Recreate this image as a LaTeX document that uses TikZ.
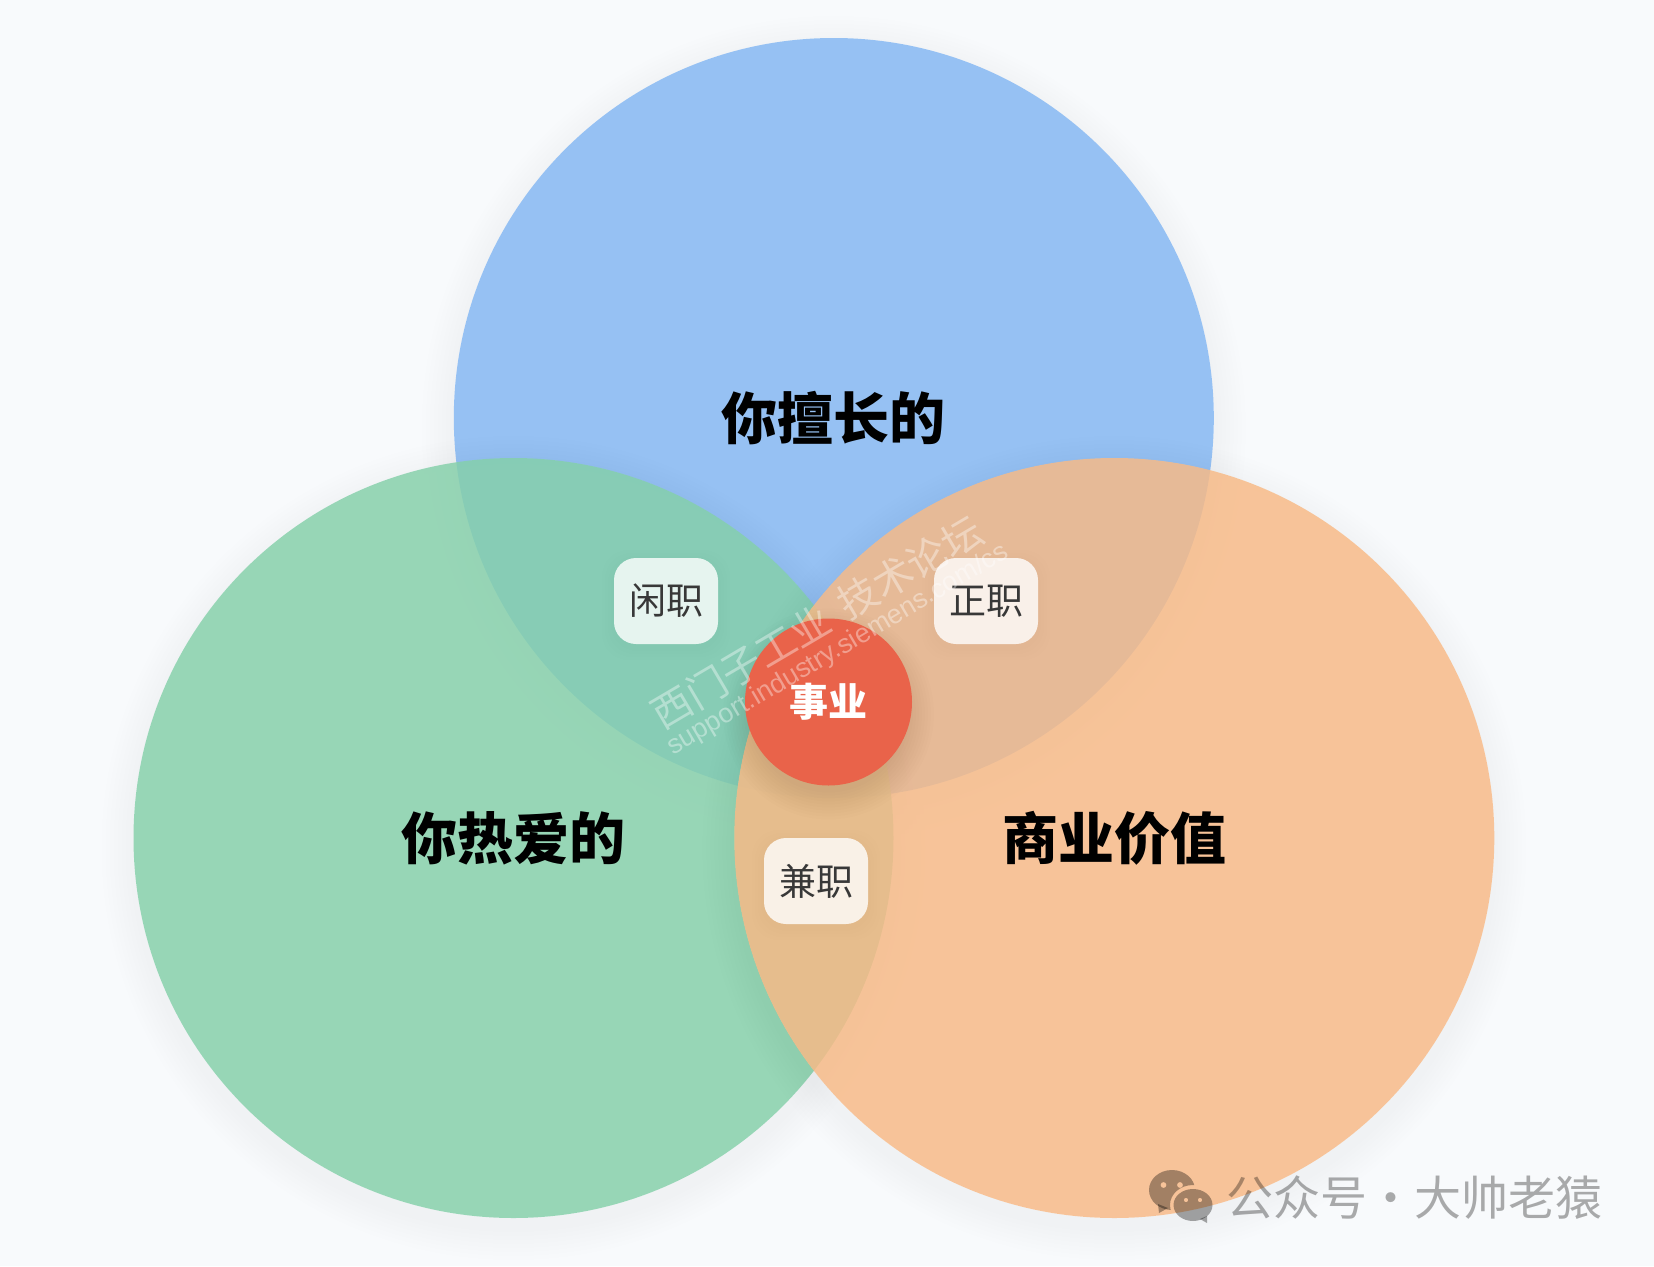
\documentclass[tikz,border=0pt]{standalone}
\usepackage{fontspec}
\setmainfont{Liberation Sans}
\newfontfamily\cjk{Noto Sans CJK SC}
\definecolor{bgc}{HTML}{F8FAFC}
\definecolor{bluec}{HTML}{96C1F3}
\definecolor{greenc}{RGB}{132,207,169}
\definecolor{orangec}{RGB}{247,185,133}
\definecolor{redc}{HTML}{E9634A}
\tikzset{
  bigc/.style={circle,inner sep=0pt,minimum size=760pt,fill opacity=.83,text opacity=1,
    font=\cjk\bfseries\fontsize{56}{60}\selectfont,text=black},
  pill/.style={rectangle,rounded corners=22pt,minimum width=104pt,minimum height=86pt,inner sep=0pt,
    fill=white,fill opacity=.8,text opacity=1,text=black!78,font=\cjk\fontsize{37}{40}\selectfont},
  core/.style={circle,inner sep=0pt,minimum size=167pt,fill=redc,text=white,
    font=\cjk\bfseries\fontsize{39}{42}\selectfont},
  wmark/.style={inner sep=0pt,rotate=30.5,text=white,text opacity=.38},
  credit/.style={inner sep=0pt,anchor=west,text=black,text opacity=.32,font=\cjk\fontsize{47}{50}\selectfont}
}
\newcommand{\softring}[4]{% x, y, radius, opacity
  \foreach \k in {4,8,...,32}{
    \fill[black,fill opacity=#4,even odd rule] (#1,#2+10) circle[radius=#3+\k] (#1,#2) circle[radius=#3];
  }
}
\begin{document}
\begin{tikzpicture}[x=1pt,y=-1pt]
\useasboundingbox (0,0) rectangle (1654,1266);
\fill[bgc] (0,0) rectangle (1654,1266);
% shadows and circles
\softring{833.8}{418}{380}{.002}
\node[bigc,fill=bluec,fill opacity=1] (skill) at (833.8,418) {你擅长的};
\softring{513.5}{838}{380}{.002}
\node[bigc,fill=greenc] (love) at (513.5,838) {你热爱的};
\softring{1114.3}{838}{380}{.002}
\node[bigc,fill=orangec] (biz) at (1114.3,838) {商业价值};
% labels of overlaps
\foreach \xx/\yy in {666/601,986/601,816/881}{
  \foreach \k in {3,6,9,12}{
    \fill[black,fill opacity=.003,rounded corners=26pt] (\xx-52-\k,\yy-43-\k+4) rectangle (\xx+52+\k,\yy+43+\k+4);
  }
}
\node[pill] (idle) at (666,601) {闲职};
\node[pill] (full) at (986,601) {正职};
\node[pill] (part) at (816,881) {兼职};
% central circle
\foreach \k in {3,6,...,30}{
  \fill[black,fill opacity=.009] (828.5,714) circle[radius=83.5+\k-8];
}
\node[core] (career) at (828.5,702) {事业};
% forum watermark
\node[wmark,font=\cjk\fontsize{40}{42}\selectfont] (wm1) at (817,622) {西门子工业\hspace{16pt}技术论坛};
\node[wmark,font=\fontsize{27}{30}\selectfont] (wm2) at (838,650) {support.industry.siemens.com/cs};
% account credit
\begin{scope}[opacity=.34]
  \begin{scope}[even odd rule]
    \clip (1140,1160) rectangle (1230,1230) (1193,1205) ellipse[x radius=23,y radius=20];
    \fill[black] (1172,1190) ellipse[x radius=23,y radius=20]
      (1163.5,1185) circle[radius=3] (1180,1185) circle[radius=3];
    \fill[black] (1158,1204) -- (1159,1213) -- (1168,1208) -- cycle;
  \end{scope}
  \fill[black,even odd rule] (1193,1205) ellipse[x radius=19.5,y radius=16]
    (1186,1200) circle[radius=2.2] (1200,1200) circle[radius=2.2];
  \fill[black] (1200,1219) -- (1207,1223) -- (1207,1216) -- cycle;
\end{scope}
\node[credit] (acct) at (1226,1198) {公众号·大帅老猿};
\end{tikzpicture}
\end{document}
